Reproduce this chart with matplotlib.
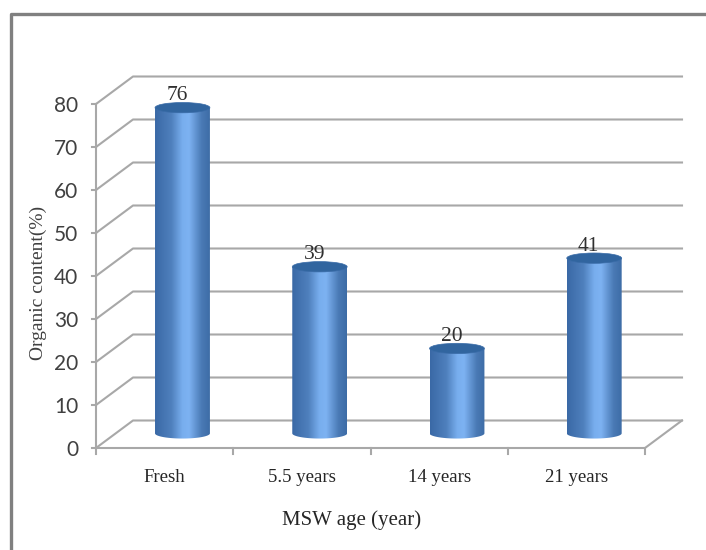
import numpy as np
import matplotlib.pyplot as plt
from matplotlib.colors import LinearSegmentedColormap
from matplotlib.patches import Ellipse, PathPatch
from matplotlib.path import Path

plt.rcParams['font.family'] = ['Liberation Serif', 'DejaVu Serif']

categories = ['Fresh', '5.5 years', '14 years', '21 years']
values = [76, 39, 20, 41]
y_ticks = [0, 10, 20, 30, 40, 50, 60, 70, 80]

W, H = 706, 550
fig = plt.figure(figsize=(W / 100, H / 100), dpi=100)

# only the top and left edges of the frame are in the picture
frame_x = [11 / W, 11 / W, 1]
frame_y = [0, 1 - 14 / H, 1 - 14 / H]
fig.add_artist(plt.Line2D(frame_x, frame_y, transform=fig.transFigure, color='#808080', lw=2.4))

# axes cover the front plane of the fake 3d box
ax = fig.add_axes([96 / W, 1 - 448 / H, 549 / W, 344 / H])
ax.set_xlim(0, 4)
ax.set_ylim(0, 80)
ax.axis('off')

# depth of the box in data units
dx = 37 / 137.25
dy = 27.5 / 4.3
grid = '#a8a8a8'

for t in y_ticks:
    ax.plot([0, dx, 4 + dx], [t, t + dy, t + dy], color=grid, lw=1.5, clip_on=False, zorder=1)
    ax.plot([-0.03, 0], [t, t], color=grid, lw=1.5, clip_on=False, zorder=1)
    ax.text(-0.13, t - 0.5, str(t), ha='right', va='center', fontsize=15, color='#404040', family=['Lato'],
            clip_on=False)

ax.plot([0, 0], [0, 80], color=grid, lw=1.5, clip_on=False, zorder=1)
ax.plot([0, 4, 4 + dx], [0, 0, dy], color=grid, lw=1.5, clip_on=False, zorder=1)
for i in range(5):
    ax.plot([i, i], [0, -1.4], color=grid, lw=1.5, clip_on=False, zorder=1)

# cylinders
cmap = LinearSegmentedColormap.from_list('cyl', [(0, '#3a69a6'), (0.3, '#4f80bd'), (0.5, '#78aeee'),
                                                 (0.62, '#7db2f2'), (0.85, '#4a7ab5'), (1, '#3d6ca6')])
grad = np.linspace(0, 1, 256).reshape(1, -1)
half = 0.2
ry = 1.2
base = 3.15

for i, v in enumerate(values):
    c = i + 0.63
    top = v + base
    # body outline with a rounded bottom
    th = np.linspace(np.pi, 2 * np.pi, 40)
    verts = [(c - half, top)] + [(c + half * np.cos(a), base + 0.25 + ry * np.sin(a)) for a in th] + [(c + half, top), (c - half, top)]
    clip = PathPatch(Path(verts), transform=ax.transData, fc='none', ec='none')
    ax.add_patch(clip)
    im = ax.imshow(grad, extent=[c - half, c + half, base - ry, top], aspect='auto', cmap=cmap, zorder=3)
    im.set_clip_path(clip)
    ax.add_patch(Ellipse((c, top), 2 * half, 2 * ry, fc='#31659f', ec='#3a6ca8', lw=0.5, zorder=4, clip_on=False))
    ax.text(c - 0.04, top + 2.8, str(v), ha='center', va='center', fontsize=15.5, color='#303030', zorder=5, clip_on=False)

ax.set_xlim(0, 4)
ax.set_ylim(0, 80)

for i, name in enumerate(categories):
    ax.text(i + 0.5, -6.8, name, ha='center', va='center', fontsize=13.5, color='#262626', clip_on=False)

ax.text(1.86, -16.7, 'MSW age (year)', ha='center', va='center', fontsize=15, color='#262626', clip_on=False)
ax.text(-0.42, 38.5, 'Organic content(%)', rotation=90, ha='center', va='center', fontsize=14, color='#404040', clip_on=False)

plt.savefig('out.png', dpi=100)
